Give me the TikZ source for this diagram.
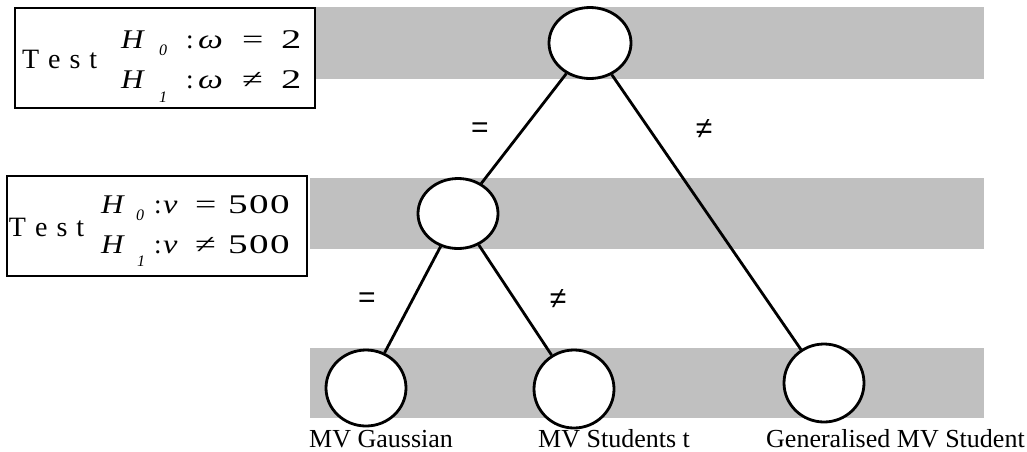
\documentclass[tikz,border=0pt]{standalone}
\usepackage{fontspec}
\setmainfont{Liberation Serif}
\newfontfamily\lsans{Liberation Sans}
\usetikzlibrary{shapes.geometric}
\definecolor{bandgray}{RGB}{192,192,192}
\newcommand{\fs}[1]{\fontsize{#1}{#1}\selectfont}
\newcommand{\sx}[2]{\scalebox{#1}[1]{#2}}
\tikzset{
  band/.style={fill=bandgray},
  state/.style={ellipse, draw=black, fill=white, line width=2.8pt, inner sep=0pt},
  edge/.style={draw=black, line width=2.8pt},
  testbox/.style={draw=black, fill=white, line width=2pt},
  glyph/.style={anchor=base west, inner sep=0pt, outer sep=0pt, font=\fs{27}},
  testlbl/.style={anchor=base west, inner sep=0pt, outer sep=0pt, font=\fs{28}},
  sub/.style={anchor=base west, inner sep=0pt, outer sep=0pt, font=\fs{16}\itshape},
  rel/.style={font=\lsans\fs{30}, inner sep=0pt},
  leaf/.style={anchor=base west, inner sep=0pt, font=\fs{26}}
}
\begin{document}
\begin{tikzpicture}[x=1pt,y=-1pt]
\useasboundingbox (0,0) rectangle (1027,451);
% bands
\fill[band] (310,7) rectangle (984,79);
\fill[band] (310,178) rectangle (984,249);
\fill[band] (310,348) rectangle (984,418);
% boxes
\draw[testbox] (15,8) rectangle (315,108);
\draw[testbox] (7,176) rectangle (307,276);
% box 1 text
\node[testlbl] (t1) at (22,68) {T\hspace{9pt}e\hspace{9pt}s\hspace{9pt}t};
\node[glyph] (a1) at (121,48) {\sx{1.15}{\itshape H}};
\node[sub] (a2) at (159,55) {0};
\node[glyph] (a3) at (186,48) {:};
\node[glyph] (a4) at (198,48) {\sx{1.3}{\itshape ω}};
\node[glyph] (a5) at (242,48) {\sx{1.4}{=}};
\node[glyph] (a6) at (281,48) {\sx{1.5}{2}};
\node[glyph] (b1) at (121,88) {\sx{1.15}{\itshape H}};
\node[sub] (b2) at (159,102) {1};
\node[glyph] (b3) at (186,88) {:};
\node[glyph] (b4) at (198,88) {\sx{1.3}{\itshape ω}};
\node[glyph] (b5) at (242,88) {\sx{1.4}{≠}};
\node[glyph] (b6) at (281,88) {\sx{1.5}{2}};
% box 2 text
\node[testlbl] (t2) at (9,236) {T\hspace{9pt}e\hspace{9pt}s\hspace{9pt}t};
\node[glyph] (c1) at (101,213) {\sx{1.15}{\itshape H}};
\node[sub] (c2) at (136,220) {0};
\node[glyph] (c3) at (154,213) {:};
\node[glyph] (c4) at (163,213) {\sx{1.2}{\itshape ν}};
\node[glyph] (c5) at (195,213) {\sx{1.4}{=}};
\node[glyph] (c6) at (228,213) {\sx{1.45}{5\hspace{1pt}0\hspace{1pt}0}};
\node[glyph] (d1) at (101,253) {\sx{1.15}{\itshape H}};
\node[sub] (d2) at (137,266) {1};
\node[glyph] (d3) at (154,253) {:};
\node[glyph] (d4) at (163,253) {\sx{1.2}{\itshape ν}};
\node[glyph] (d5) at (195,253) {\sx{1.4}{≠}};
\node[glyph] (d6) at (228,253) {\sx{1.45}{5\hspace{1pt}0\hspace{1pt}0}};
% tree nodes
\node[state, minimum width=82pt, minimum height=71pt] (root) at (590,43) {};
\node[state, minimum width=80pt, minimum height=70pt] (mid) at (458,213.5) {};
\node[state, minimum width=80pt, minimum height=76pt] (gauss) at (366,388) {};
\node[state, minimum width=80pt, minimum height=78pt] (stud) at (574,389) {};
\node[state, minimum width=80pt, minimum height=78pt] (gen) at (824,383) {};
% edges
\draw[edge] (root) -- (mid);
\draw[edge] (root) -- (gen);
\draw[edge] (mid) -- (gauss);
\draw[edge] (mid) -- (stud);
% edge labels
\node[rel] (e1) at (480,130) {=};
\node[rel] (e2) at (704,129) {≠};
\node[rel] (e3) at (367,300) {=};
\node[rel] (e4) at (558,299) {≠};
% leaf labels
\node[leaf] (l1) at (309,447) {MV Gaussian};
\node[leaf] (l2) at (538,447) {MV Students t};
\node[leaf] (l3) at (766,447) {Generalised MV Student};
\end{tikzpicture}
\end{document}
